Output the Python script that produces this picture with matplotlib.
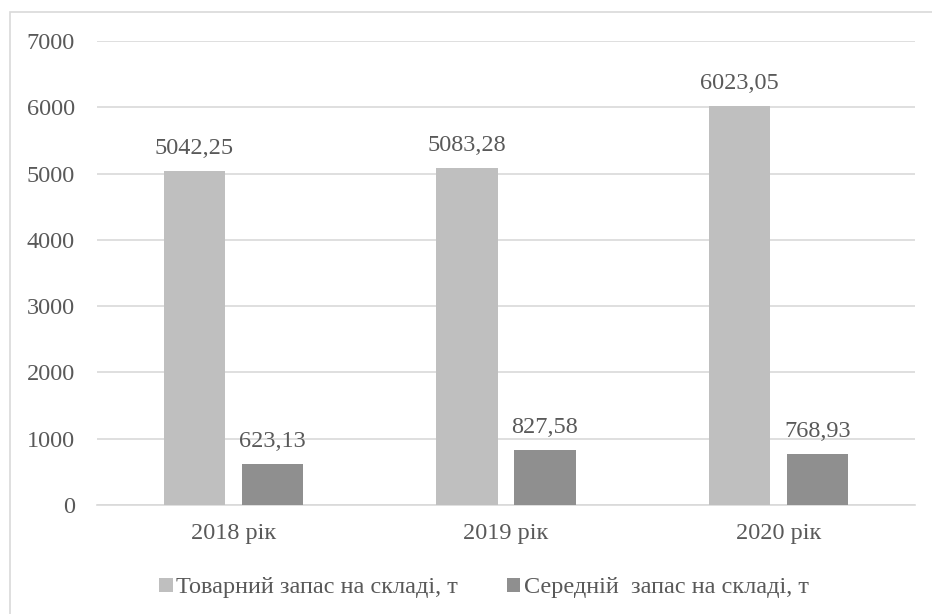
import matplotlib.pyplot as plt
import matplotlib.patches as patches
import numpy as np

# Chart data
years = ['2018 рік', '2019 рік', '2020 рік']
stock = [5042.25, 5083.28, 6023.05]
avg_stock = [623.13, 827.58, 768.93]
stock_labels = ['5042,25', '5083,28', '6023,05']
avg_labels = ['623,13', '827,58', '768,93']
series_names = ['Товарний запас на складі, т', 'Середній  запас на складі, т']
yticks = [0, 1000, 2000, 3000, 4000, 5000, 6000, 7000]

plt.rcParams['font.family'] = ['Liberation Serif', 'DejaVu Serif']
text_col = '#595959'
grid_col = '#d9d9d9'
fs = 17.5

fig = plt.figure(figsize=(9.32, 6.14), dpi=100)
ax = fig.add_axes([97 / 932, 1 - 505 / 614, 818 / 932, 464 / 614])

# outer chart frame (only top and left visible in the crop)
frame = patches.Rectangle((10 / 932, -0.05), 1.1, 1 - 12 / 614 + 0.05,
                          transform=fig.transFigure, fill=False,
                          edgecolor=grid_col, lw=1.2, zorder=0)
fig.patches.append(frame)

x = np.arange(len(years))
w = 0.224
off = 0.143
b1 = ax.bar(x - off, stock, w, color='#bfbfbf', label=series_names[0], zorder=3)
b2 = ax.bar(x + off, avg_stock, w, color='#8f8f8f', label=series_names[1], zorder=3)

for bars, labs in [(b1, stock_labels), (b2, avg_labels)]:
    for rect, lab in zip(bars, labs):
        ax.annotate(lab, (rect.get_x() + rect.get_width() / 2, rect.get_height()),
                    xytext=(0, 8.5), textcoords='offset points', ha='center',
                    va='bottom', fontsize=fs, color=text_col)

ax.set_xlim(-0.5, 2.5)
ax.set_ylim(0, 7000)
ax.set_yticks(yticks)
ax.set_yticklabels([str(t) for t in yticks])
ax.set_xticks(x)
ax.set_xticklabels(years)
ax.tick_params(axis='both', length=0, labelsize=fs, labelcolor=text_col)
ax.tick_params(axis='y', pad=16)
ax.tick_params(axis='x', pad=13)

ax.grid(axis='y', color=grid_col, lw=1.2, zorder=0)
for s in ['top', 'right', 'left']:
    ax.spines[s].set_visible(False)
ax.spines['bottom'].set_color(grid_col)
ax.spines['bottom'].set_linewidth(1.2)

leg = fig.legend(handles=[b1, b2], loc='center', bbox_to_anchor=(484 / 932, 1 - 588 / 614),
                 ncol=2, frameon=False, fontsize=fs, handlelength=0.55,
                 handleheight=0.55, handletextpad=0.15, columnspacing=2.0,
                 borderpad=0)
for t in leg.get_texts():
    t.set_color(text_col)

fig.savefig('out.png', dpi=100)
